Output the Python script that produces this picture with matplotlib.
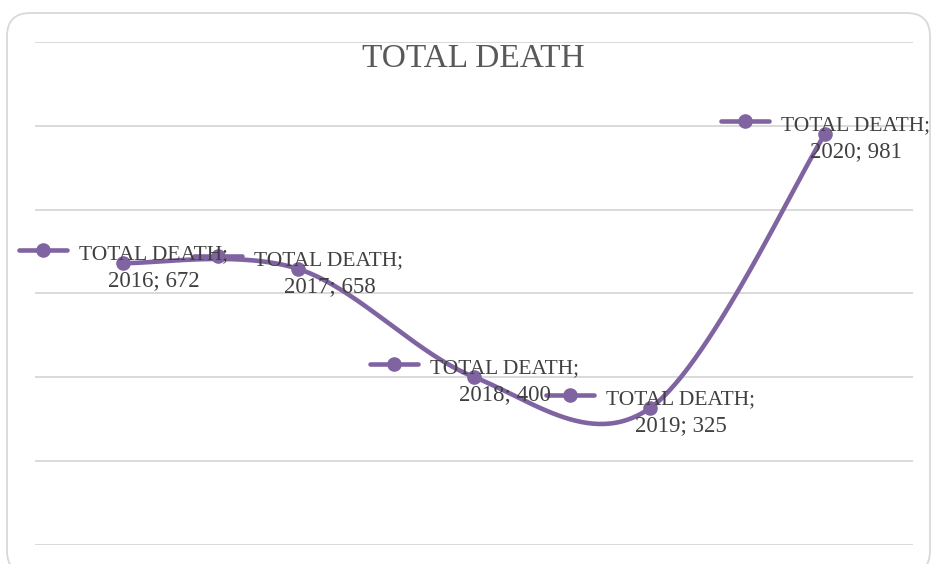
import numpy as np
import matplotlib.pyplot as plt
from matplotlib.patches import FancyBboxPatch
from matplotlib.transforms import IdentityTransform

years = ['2016', '2017', '2018', '2019', '2020']
total_death = [672, 658, 400, 325, 981]
series_name = 'TOTAL DEATH'

purple = '#8064A2'
grid_col = '#D9D9D9'
text_col = '#404040'


def smooth_curve(y, n=60):
    # excel-like smoothed line: catmull-rom segments as cubic bezier
    x = np.arange(len(y), dtype=float)
    y = np.asarray(y, dtype=float)
    px = np.concatenate([[x[0]], x, [x[-1]]])
    py = np.concatenate([[y[0]], y, [y[-1]]])
    xs, ys = [], []
    t = np.linspace(0, 1, n)
    for i in range(len(y) - 1):
        p0 = np.array([px[i], py[i]])
        p1 = np.array([px[i + 1], py[i + 1]])
        p2 = np.array([px[i + 2], py[i + 2]])
        p3 = np.array([px[i + 3], py[i + 3]])
        c1 = p1 + (p2 - p0) / 6
        c2 = p2 - (p3 - p1) / 6
        b = ((1 - t) ** 3)[:, None] * p1 + (3 * (1 - t) ** 2 * t)[:, None] * c1 \
            + (3 * (1 - t) * t ** 2)[:, None] * c2 + (t ** 3)[:, None] * p2
        xs.extend(b[:, 0])
        ys.extend(b[:, 1])
    return xs, ys


fig = plt.figure(figsize=(9.32, 5.64), dpi=100)
fig.patch.set_facecolor('white')

# rounded chart border
border = FancyBboxPatch((7 / 932, -10 / 564), 923 / 932, 561 / 564,
                        boxstyle='round,pad=0,rounding_size=0.025',
                        transform=fig.transFigure, fill=False,
                        edgecolor=grid_col, linewidth=1.3, mutation_aspect=932 / 564)
fig.patches.append(border)

ax = fig.add_axes([35 / 932, (564 - 544.5) / 564, 878 / 932, 502.5 / 564])
ax.set_xlim(-0.5, len(years) - 0.5)
ax.set_ylim(0, 1200)
ax.set_yticks(np.arange(0, 1201, 200))
ax.grid(axis='y', color=grid_col, linewidth=1.4)
ax.set_axisbelow(True)
ax.tick_params(left=False, bottom=False, labelleft=False, labelbottom=False)
for s in ax.spines.values():
    s.set_visible(False)

xs, ys = smooth_curve(total_death)
ax.plot(xs, ys, color=purple, linewidth=3.3, solid_capstyle='round', zorder=3, clip_on=False)
ax.plot(range(len(years)), total_death, 'o', color=purple, markersize=9.5, zorder=4, clip_on=False)

fig.text(473 / 932, (564 - 67) / 564, series_name, ha='center', va='baseline',
         fontsize=24, color='#595959', family='Liberation Serif')

# data labels with legend key
fig.canvas.draw()
for i, v in enumerate(total_death):
    px, py = ax.transData.transform((i, v))
    kx, ky = px - 80, py + 13
    ax.add_line(plt.Line2D([kx - 24, kx + 24], [ky, ky], transform=IdentityTransform(),
                           color=purple, linewidth=3.3, solid_capstyle='round',
                           zorder=5, clip_on=False))
    ax.add_line(plt.Line2D([kx], [ky], transform=IdentityTransform(), marker='o',
                           color=purple, markersize=9.5, zorder=6, clip_on=False))
    ax.annotate(series_name + ';', (i, v), xytext=(-44, 4), textcoords='offset pixels',
                ha='left', va='baseline', fontsize=15.5, color=text_col,
                family='Liberation Serif', zorder=7, annotation_clip=False)
    ax.annotate(f'{years[i]}; {v}', (i, v), xytext=(31, -23), textcoords='offset pixels',
                ha='center', va='baseline', fontsize=16.5, color=text_col,
                family='Liberation Serif', zorder=7, annotation_clip=False)

fig.savefig('out.png', dpi=100)
